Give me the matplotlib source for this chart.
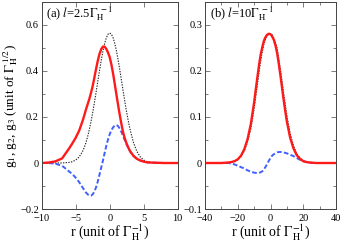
import matplotlib
matplotlib.use("Agg")
import matplotlib.pyplot as plt
from matplotlib.ticker import MultipleLocator

# ---------------- data ----------------
r_a = [-10, -9, -8, -7, -6, -5.5, -5, -4.5,
       -4, -3.75, -3.5, -3.25, -3, -2.75, -2.5, -2.25, -2, -1.75, -1.5, -1.25,
       -1, -0.75, -0.5, -0.25, 0, 0.25, 0.5, 0.75, 1, 1.25, 1.5, 1.75,
       2, 2.25, 2.5, 2.75, 3, 3.5, 4, 4.5, 5, 5.5, 6, 7, 8, 9, 10]
red_a = [0.0, 0.002, 0.007, 0.020, 0.062, 0.085, 0.110, 0.140,
         0.182, 0.206, 0.232, 0.255, 0.278, 0.305, 0.335, 0.372, 0.410, 0.445, 0.474, 0.495,
         0.506, 0.506, 0.496, 0.480, 0.460, 0.428, 0.388, 0.342, 0.295, 0.249, 0.205, 0.165,
         0.130, 0.104, 0.083, 0.066, 0.051, 0.031, 0.018, 0.011, 0.006, 0.003, 0.002, 0.001,
         0.0, 0.0, 0.0]
black_a = [0.0, 0.0, 0.0, 0.0003, 0.0024, 0.0058, 0.0128, 0.026,
           0.050, 0.067, 0.088, 0.114, 0.145, 0.180, 0.219, 0.262, 0.308, 0.355, 0.402, 0.446,
           0.486, 0.519, 0.544, 0.560, 0.565, 0.560, 0.544, 0.519, 0.486, 0.446, 0.402, 0.355,
           0.308, 0.262, 0.219, 0.180, 0.145, 0.088, 0.050, 0.026, 0.0128, 0.0058, 0.0024,
           0.0003, 0.0, 0.0, 0.0]
blue_a = [0.0, 0.0, -0.003, -0.012, -0.036, -0.048, -0.064, -0.083,
          -0.106, -0.117, -0.128, -0.136, -0.141, -0.142, -0.136, -0.124, -0.105, -0.080,
          -0.050, -0.020, 0.010, 0.043, 0.075, 0.102, 0.125, 0.143, 0.155, 0.163, 0.165,
          0.160, 0.148, 0.133, 0.115, 0.097, 0.080, 0.065, 0.051, 0.031, 0.018, 0.011,
          0.006, 0.003, 0.002, 0.001, 0.0, 0.0, 0.0]

r_b = [-40, -30, -28, -26, -24, -22, -20, -18, -16, -14, -12, -10, -9, -8, -7, -6, -5,
       -4, -3, -2, -1, 0, 1, 2, 3, 4, 5, 6, 7, 8, 9, 10, 12, 14, 16, 18, 20, 22, 24, 26,
       28, 30, 40]
red_b = [0.0, 0.0, 0.0005, 0.001, 0.002, 0.004, 0.008, 0.016, 0.030, 0.052, 0.085, 0.132,
         0.160, 0.187, 0.213, 0.236, 0.252, 0.266, 0.274, 0.279, 0.281, 0.280, 0.275, 0.268,
         0.256, 0.240, 0.217, 0.192, 0.165, 0.138, 0.113, 0.090, 0.055, 0.032, 0.017, 0.009,
         0.004, 0.002, 0.001, 0.0005, 0.0, 0.0, 0.0]
black_b = [0.0, 0.0, 0.0, 0.001, 0.0015, 0.003, 0.007, 0.014, 0.026, 0.046, 0.075, 0.118,
           0.144, 0.170, 0.197, 0.222, 0.242, 0.259, 0.269, 0.277, 0.280, 0.281, 0.279,
           0.272, 0.263, 0.250, 0.228, 0.205, 0.179, 0.152, 0.128, 0.103, 0.064, 0.038,
           0.020, 0.011, 0.005, 0.0025, 0.0012, 0.0005, 0.0, 0.0, 0.0]
blue_b = [0.0, 0.0, 0.0, 0.0, -0.001, -0.003, -0.006, -0.009, -0.012, -0.016, -0.019,
          -0.021, -0.0215, -0.022, -0.0215, -0.020, -0.018, -0.014, -0.008, -0.002, 0.005,
          0.011, 0.016, 0.019, 0.021, 0.023, 0.0238, 0.024, 0.0238, 0.023, 0.022, 0.021,
          0.018, 0.015, 0.011, 0.007, 0.004, 0.002, 0.001, 0.0, 0.0, 0.0, 0.0]

label_a = r"(a) $l$=2.5$\Gamma_{\rm H}^{\ -1}$"
label_b = r"(b) $l$=10$\Gamma_{\rm H}^{\ -1}$"
xlabel = r"r (unit of $\Gamma_{\rm H}^{-1}$)"
ylabel = r"g$_1$, g$_2$, g$_3$ (unit of $\Gamma_{\rm H}^{\ 1/2}$)"

# ---------------- style ----------------
plt.rcParams['font.family'] = ['Liberation Serif', 'DejaVu Serif']
plt.rcParams['mathtext.fontset'] = 'stix'

fig = plt.figure(figsize=(3.43, 2.45), dpi=100)
ax1 = fig.add_axes([0.1216, 0.1469, 0.3965, 0.845])
ax2 = fig.add_axes([0.5977, 0.1469, 0.3819, 0.845])

RED = '#ff1a1a'
BLUE = '#4060ff'

def style(ax, xmaj, xmin, ymaj, ymin):
    ax.xaxis.set_major_locator(MultipleLocator(xmaj))
    if xmin:
        ax.xaxis.set_minor_locator(MultipleLocator(xmin))
    ax.yaxis.set_major_locator(MultipleLocator(ymaj))
    ax.yaxis.set_minor_locator(MultipleLocator(ymin))
    ax.tick_params(which='both', direction='in', top=True, right=True,
                   labelsize=7.5, width=0.6, color='#666666')
    ax.tick_params(axis='x', which='both', pad=3.5)
    ax.tick_params(axis='y', which='both', pad=2)
    ax.tick_params(which='major', length=3.5)
    ax.tick_params(which='minor', length=2.5)
    for s in ax.spines.values():
        s.set_linewidth(0.7)
        s.set_color('#444444')
    ax.set_xlabel(xlabel, fontsize=10, labelpad=0)

line_kw = dict(solid_joinstyle='round', solid_capstyle='round')

# panel a
ax1.plot(r_a, black_a, color='#222222', lw=0.8, ls=(0, (1.2, 1.2)))
ax1.plot(r_a, blue_a, color=BLUE, lw=1.4, dashes=(2.4, 1.2), dash_joinstyle='round')
ax1.plot(r_a, red_a, color=RED, lw=1.7, **line_kw)
ax1.set_xlim(-10, 10)
ax1.set_ylim(-0.2, 0.7)
style(ax1, 5, None, 0.2, 0.1)
ax1.set_yticks([-0.2, 0, 0.2, 0.4, 0.6])
ax1.set_yticklabels(['\u22120.2', '0', '0.2', '0.4', '0.6'])
ax1.set_xticks([-10, -5, 0, 5, 10])
ax1.set_xticklabels(['\u221210', '\u22125', '0', '5', '10'])
ax1.set_ylabel(ylabel, fontsize=9.5, labelpad=0)
ax1.text(0.03, 0.945, label_a, transform=ax1.transAxes, fontsize=9, va='center', ha='left')

# panel b
ax2.plot(r_b, black_b, color='#222222', lw=0.8, ls=(0, (1.2, 1.2)))
ax2.plot(r_b, blue_b, color=BLUE, lw=1.4, dashes=(2.4, 1.2), dash_joinstyle='round')
ax2.plot(r_b, red_b, color=RED, lw=1.7, **line_kw)
ax2.set_xlim(-40, 40)
ax2.set_ylim(-0.1, 0.35)
style(ax2, 20, 10, 0.1, 0.05)
ax2.set_xticks([-40, -20, 0, 20, 40])
ax2.set_xticklabels(['\u221240', '\u221220', '0', '20', '40'])
ax2.set_yticks([-0.1, 0, 0.1, 0.2, 0.3])
ax2.set_yticklabels(['\u22120.1', '0', '0.1', '0.2', '0.3'])
ax2.text(0.04, 0.945, label_b, transform=ax2.transAxes, fontsize=9, va='center', ha='left')

fig.savefig('out.png', dpi=100)
